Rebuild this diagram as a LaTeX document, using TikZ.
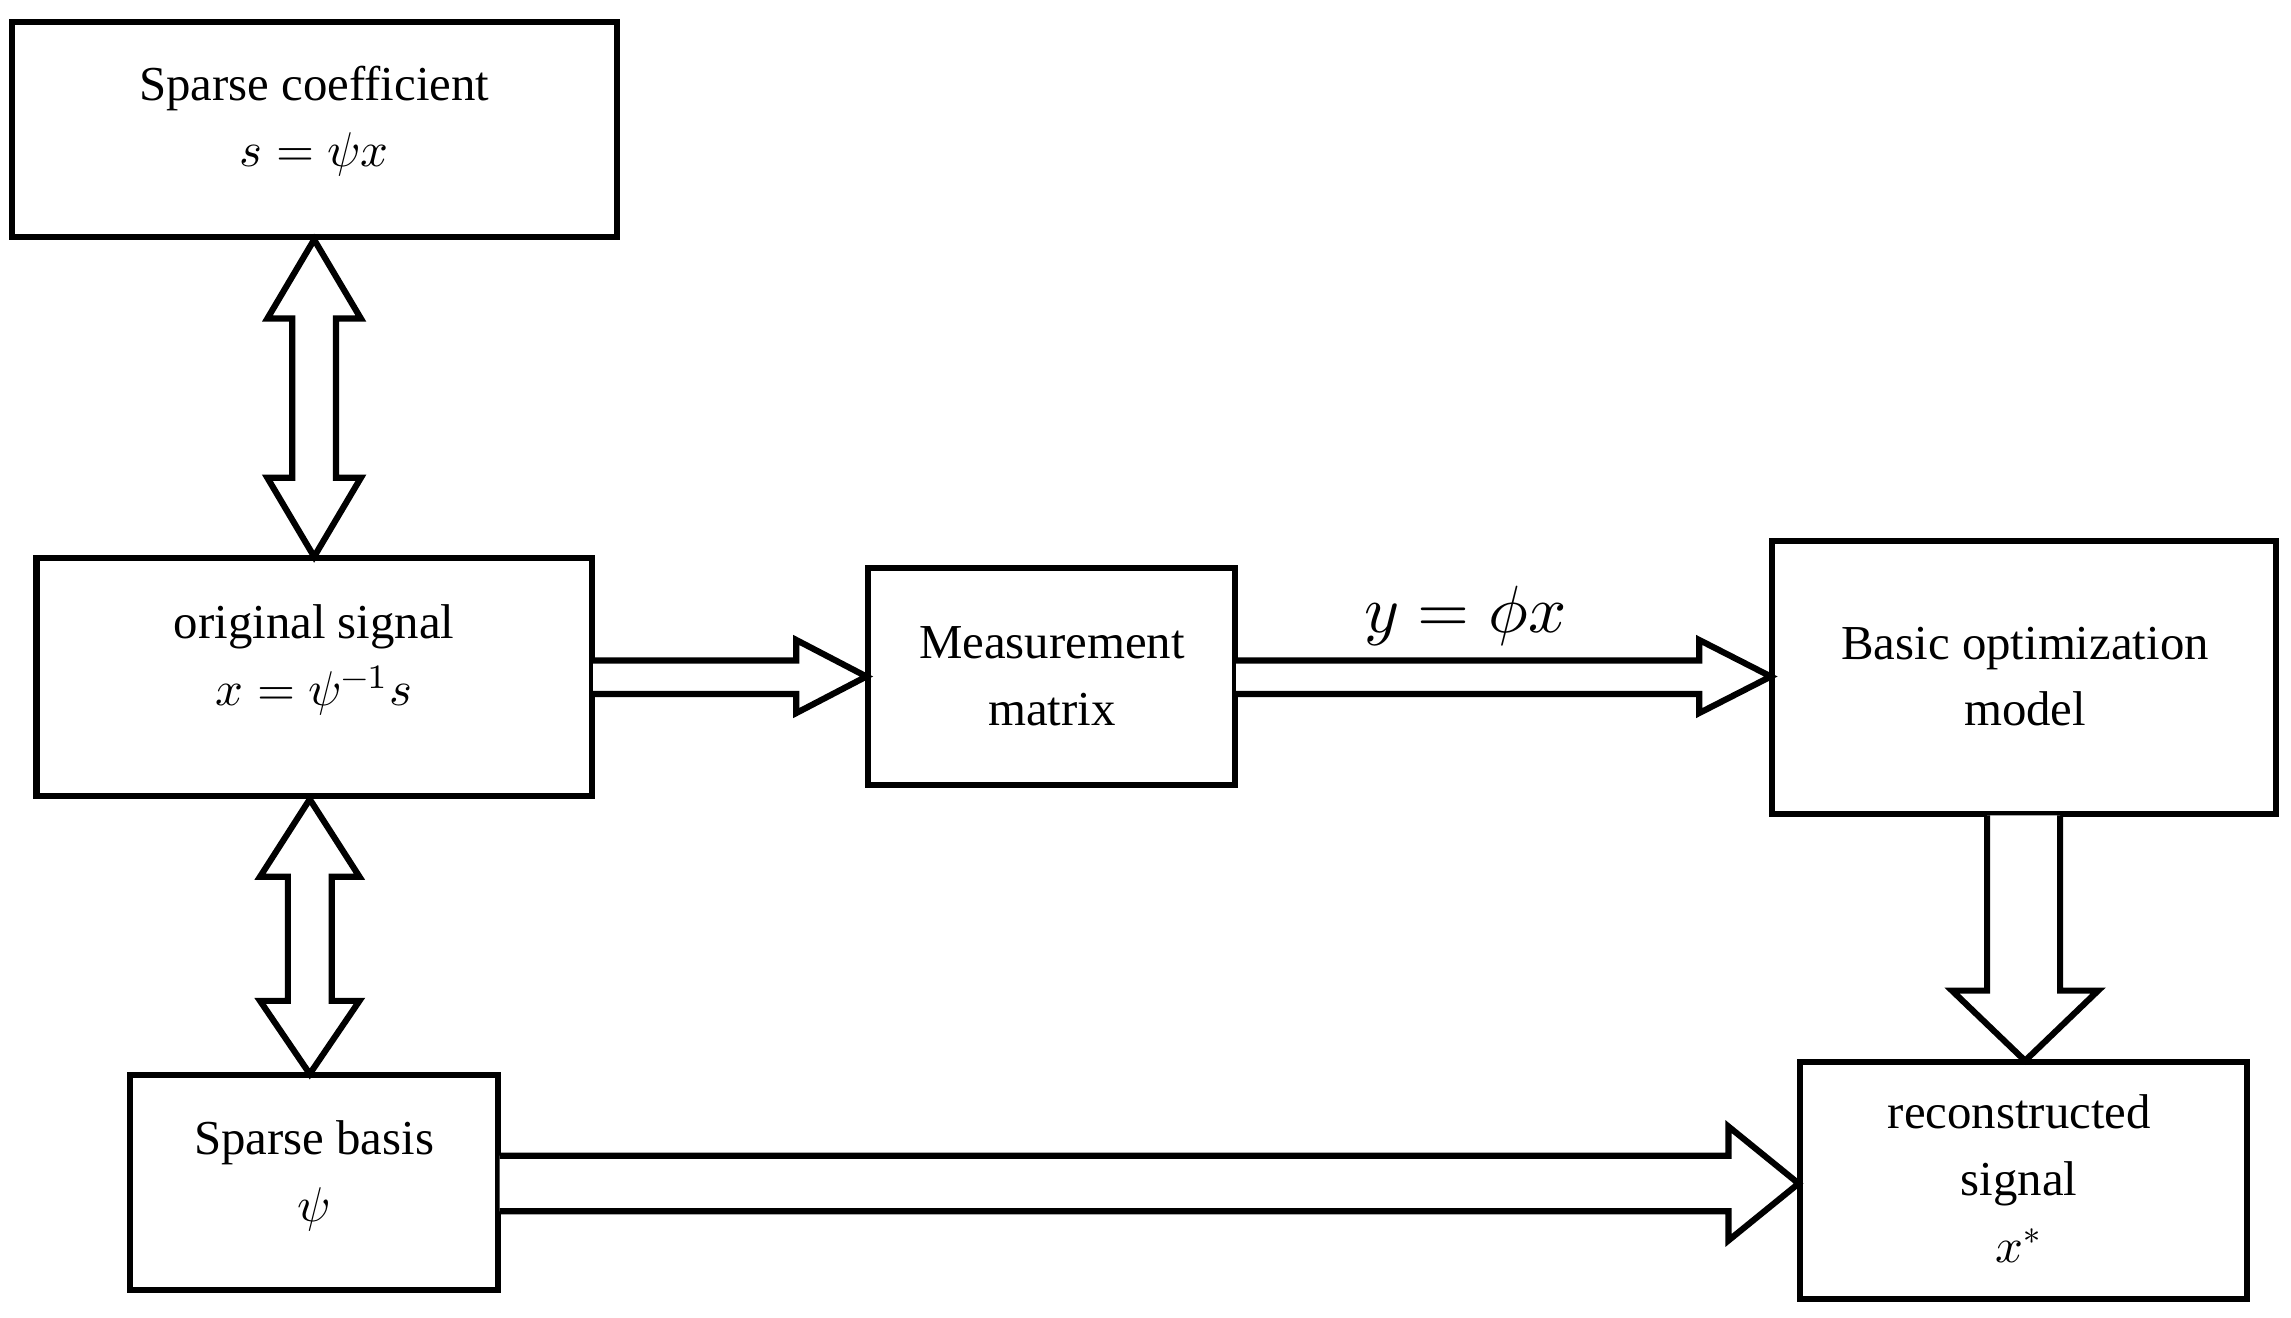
\documentclass[tikz,border=0pt]{standalone}
\usepackage{fontspec}
\setmainfont{Liberation Serif}
\usepackage{unicode-math}
\setmathfont{Latin Modern Math}
\begin{document}
\begin{tikzpicture}[x=0.01cm,y=-0.01cm,
  box/.style={draw,line width=1.2pt},
  arr/.style={draw,line width=1.2pt,fill=white,line join=miter},
  lbl/.style={font=\fontsize{9.5}{13}\selectfont,align=center}]
\useasboundingbox (0,0) rectangle (1568,902);
% boxes
\draw[box] (8,15) rectangle (422,162) coordinate (sc);
\node[lbl] (sct) at (215,83) {Sparse coefficient\\$s=\psi x$};
\draw[box] (25,382) rectangle (405,545);
\node[lbl] (ost) at (215,452) {original signal\\$x=\psi^{-1}s$};
\draw[box] (594,389) rectangle (845,537);
\node[lbl] (mmt) at (720,463) {Measurement\\matrix};
\draw[box] (1213,370) rectangle (1558,557);
\node[lbl] (bot) at (1386,463) {Basic optimization\\model};
\draw[box] (1232,727) rectangle (1538,889);
\node[lbl] (rst) at (1382,807) {reconstructed\\signal\\$x^{*}$};
\draw[box] (89,736) rectangle (341,883);
\node[lbl] (sbt) at (215,805) {Sparse basis\\$\psi$};
% vertical double arrows
\draw[arr] (215,164) -- (247,218) -- (230,218) -- (230,327) -- (247,327) -- (215,381)
  -- (183,327) -- (200,327) -- (200,218) -- (183,218) -- cycle;
\draw[arr] (212,547) -- (246,600) -- (227,600) -- (227,685) -- (246,685) -- (212,735)
  -- (178,685) -- (197,685) -- (197,600) -- (178,600) -- cycle;
% horizontal arrows
\draw[arr] (406,452) -- (545,452) -- (545,438) -- (593,463) -- (545,488) -- (545,475) -- (406,475);
\draw[arr] (846,452) -- (1163,452) -- (1163,438) -- (1212,463) -- (1163,488) -- (1163,475) -- (846,475);
\node[font=\fontsize{13}{15}\selectfont] (yl) at (1003,422) {$y=\phi x$};
\draw[arr] (1360,558) -- (1360,678) -- (1336,678) -- (1386,726) -- (1436,678) -- (1410,678) -- (1410,558);
\draw[arr] (342,791) -- (1183,791) -- (1183,771) -- (1231,810) -- (1183,849) -- (1183,829) -- (342,829);
\end{tikzpicture}
\end{document}
